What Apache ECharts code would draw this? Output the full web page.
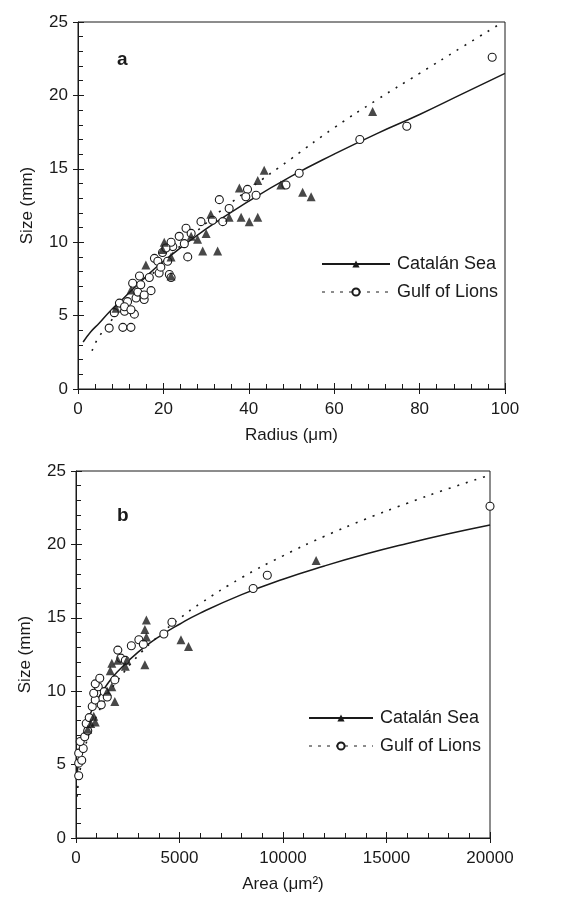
<!DOCTYPE html>
<html>
<head>
<meta charset="utf-8">
<script src="https://cdn.jsdelivr.net/npm/echarts@6/dist/echarts.min.js"></script>
<style>
  html, body { margin: 0; padding: 0; background: #fff; }
  #box { width: 572px; height: 905px; }
</style>
</head>
<body>
<div id="box"></div>
<script>
// panel a : radius (um) vs size (mm)
var catalanRadius = [8.9, 12.4, 15.9, 20.2, 21.8, 19.8, 21.8, 26.5, 28, 29.2, 32.7, 30, 31.1, 35.4, 38.2, 40.1, 42.1, 37.8, 42.1, 43.6, 52.6, 54.6, 47.5, 69];
var catalanRadiusSize = [5.5, 6.75, 8.45, 10.0, 9.0, 9.5, 7.7, 10.4, 10.2, 9.4, 9.4, 10.6, 11.9, 11.7, 11.7, 11.4, 11.7, 13.7, 14.2, 14.9, 13.4, 13.1, 13.9, 18.9];
var lionsRadius = [7.3, 10.5, 12.4, 8.5, 10.9, 13.2, 9.7, 11.6, 13.6, 15.5, 14, 17.1, 12.8, 14.4, 16.7, 19, 21.4, 17.9, 19.8, 22.2, 23.7, 25.7, 24.9, 21.8, 25.3, 26.5, 28.8, 31.5, 33.1, 33.9, 35.4, 39.7, 39.3, 41.7, 48.7, 51.8, 20.6, 18.7, 21, 19.4, 21.8, 14.7, 15.5, 10.9, 12.4, 66, 77, 97];
var lionsRadiusSize = [4.15, 4.2, 4.2, 5.2, 5.3, 5.1, 5.85, 5.95, 6.2, 6.1, 6.6, 6.7, 7.2, 7.7, 7.6, 7.9, 7.8, 8.9, 9.3, 9.7, 10.4, 9.0, 9.9, 10.0, 10.95, 10.6, 11.4, 11.5, 12.9, 11.4, 12.3, 13.6, 13.1, 13.2, 13.9, 14.7, 9.6, 8.7, 8.7, 8.3, 7.6, 7.1, 6.4, 5.6, 5.4, 17.0, 17.9, 22.6];
// fitted curves
var fitRadiusX = [1.2, 3, 5, 7.5, 10, 15, 20, 30, 40, 50, 60, 70, 80, 90, 100];
var fitRadiusCatalan = [3.2, 3.9, 4.5, 5.3, 6.0, 7.4, 8.7, 10.9, 12.8, 14.5, 16.0, 17.4, 18.7, 20.1, 21.5];
var fitRadiusLionsX = [3.3, 5, 10, 20, 30, 40, 50, 60, 70, 80, 90, 99];
var fitRadiusLions = [2.6, 3.6, 5.4, 8.6, 11.3, 13.6, 15.7, 17.8, 19.7, 21.5, 23.3, 24.9];

// panel b : area (um2) vs size (mm)
var catalanArea = [567, 712, 930, 857, 1511, 1874, 1729, 1656, 1729, 2383, 2456, 2020, 3328, 3400, 3328, 3400, 5071, 5434, 11600];
var catalanAreaSize = [7.4, 7.8, 7.9, 8.3, 10.0, 9.3, 10.3, 11.4, 11.9, 11.7, 12.1, 12.1, 11.8, 14.85, 14.2, 13.7, 13.5, 13.05, 18.9];
var lionsArea = [130, 130, 276, 130, 349, 203, 421, 567, 494, 640, 785, 930, 1220, 857, 1075, 930, 1148, 1366, 1511, 1874, 2020, 2165, 2383, 2674, 3037, 3255, 4244, 4635, 8558, 9241, 20000];
var lionsAreaSize = [4.24, 5.1, 5.3, 5.78, 6.1, 6.57, 6.9, 7.3, 7.8, 8.2, 8.96, 9.4, 9.07, 9.86, 10.3, 10.5, 10.88, 9.97, 9.6, 10.77, 12.8, 12.25, 12.1, 13.1, 13.5, 13.2, 13.9, 14.7, 17.0, 17.9, 22.6];
var fitAreaX = [50, 100, 200, 400, 700, 1000, 1500, 2000, 3000, 4000, 5000, 6000, 8000, 10000, 12000, 14000, 16000, 18000, 20000];
var fitAreaCatalan = [4.11, 4.97, 6.01, 7.27, 8.48, 9.36, 10.46, 11.32, 12.66, 13.70, 14.56, 15.32, 16.58, 17.63, 18.53, 19.34, 20.06, 20.72, 21.32];
var fitAreaLions = [2.81, 3.61, 4.65, 5.98, 7.32, 8.33, 9.66, 10.72, 12.42, 13.78, 14.95, 15.97, 17.73, 19.22, 20.55, 21.73, 22.80, 23.80, 24.72];

var sizeTicks = [0, 5, 10, 15, 20, 25];
var radiusTicks = [0, 20, 40, 60, 80, 100];
var areaTicks = [0, 5000, 10000, 15000, 20000];

var ink = '#1a1a1a';
var font = 'Liberation Sans, Arial, Helvetica, sans-serif';

function pairs(xs, ys) {
    var out = [];
    for (var i = 0; i < xs.length; i++) {
        out.push([xs[i], ys[i]]);
    }
    return out;
}

function mainX(grid, ticks, name) {
    return {
        type: 'value', gridIndex: grid, position: 'bottom',
        min: ticks[0], max: ticks[ticks.length - 1], interval: ticks[1] - ticks[0],
        name: name, nameLocation: 'middle', nameGap: 38,
        nameTextStyle: { color: ink, fontSize: 17, fontFamily: font },
        axisLine: { lineStyle: { color: ink, width: 1 } },
        axisTick: { inside: true, length: 6, lineStyle: { color: ink } },
        minorTick: { show: true, splitNumber: 5, length: 5, lineStyle: { color: ink } },
        axisLabel: {
            color: ink, fontSize: 17, fontFamily: font, margin: 12,
            formatter: function (v) { return String(v); }
        },
        splitLine: { show: false }
    };
}
function outX(grid, ticks) {
    return {
        type: 'value', gridIndex: grid, position: 'bottom',
        min: ticks[0], max: ticks[ticks.length - 1], interval: ticks[1] - ticks[0],
        axisLine: { show: false },
        axisTick: { inside: false, length: 5, lineStyle: { color: ink } },
        axisLabel: { show: false }, splitLine: { show: false }
    };
}
function mainY(grid) {
    return {
        type: 'value', gridIndex: grid, position: 'left',
        min: sizeTicks[0], max: sizeTicks[sizeTicks.length - 1], interval: 5,
        name: 'Size (mm)', nameLocation: 'middle', nameGap: 42,
        nameTextStyle: { color: ink, fontSize: 17, fontFamily: font },
        axisLine: { lineStyle: { color: ink, width: 1 } },
        axisTick: { inside: true, length: 6, lineStyle: { color: ink } },
        minorTick: { show: true, splitNumber: 5, length: 5, lineStyle: { color: ink } },
        axisLabel: { color: ink, fontSize: 17, fontFamily: font, margin: 10 },
        splitLine: { show: false }
    };
}
function outY(grid) {
    return {
        type: 'value', gridIndex: grid, position: 'left',
        min: sizeTicks[0], max: sizeTicks[sizeTicks.length - 1], interval: 5,
        axisLine: { show: false },
        axisTick: { inside: false, length: 5, lineStyle: { color: ink } },
        axisLabel: { show: false }, splitLine: { show: false }
    };
}

function fitLine(name, ax, data, dotted, symbol) {
    return {
        name: name, type: 'line', xAxisIndex: ax, yAxisIndex: ax,
        data: data, smooth: true, showSymbol: false, symbol: symbol,
        itemStyle: { color: ink },
        lineStyle: { color: ink, width: dotted ? 1.6 : 1.5, type: dotted ? [2, 7] : 'solid' },
        silent: true, z: 1
    };
}
function dots(name, ax, data, symbol) {
    var tri = symbol === 'triangle';
    return {
        name: name, type: 'scatter', xAxisIndex: ax, yAxisIndex: ax,
        data: data, symbol: symbol, symbolSize: tri ? 9 : 8, clip: false,
        itemStyle: tri ? { color: ink } : { color: '#fff', borderColor: ink, borderWidth: 1.1, opacity: 1 },
        z: tri ? 3 : 2
    };
}

function legendAt(left, top, width) {
    return {
        orient: 'vertical', left: left, top: top, padding: 0,
        itemWidth: width, itemHeight: 9, itemGap: 10,
        selectedMode: false,
        textStyle: { color: ink, fontSize: 18, fontFamily: font, padding: [0, 0, 0, 2] },
        data: [
            { name: 'Catalán Sea' },
            { name: 'Gulf of Lions', lineStyle: { type: [3, 6], width: 1 } }
        ]
    };
}

var myChart = echarts.init(document.getElementById('box'), null, { renderer: 'canvas' });

var option = {
    backgroundColor: '#fff',
    animation: false,
    grid: [
        { left: 78, top: 22, width: 427, height: 367, show: true, borderColor: ink, borderWidth: 1 },
        { left: 76, top: 471, width: 414, height: 367, show: true, borderColor: ink, borderWidth: 1 }
    ],
    xAxis: [
        mainX(0, radiusTicks, 'Radius (μm)'),
        mainX(1, areaTicks, 'Area (μm²)'),
        outX(0, radiusTicks),
        outX(1, areaTicks)
    ],
    yAxis: [mainY(0), mainY(1), outY(0), outY(1)],
    legend: [legendAt(321, 255, 68), legendAt(308, 709, 64)],
    graphic: [
        { type: 'text', left: 117, top: 50, style: { text: 'a', fontSize: 19, fontWeight: 'bold', fontFamily: font, fill: ink } },
        { type: 'text', left: 117, top: 506, style: { text: 'b', fontSize: 19, fontWeight: 'bold', fontFamily: font, fill: ink } }
    ],
    series: [
        fitLine('Catalán Sea', 0, pairs(fitRadiusX, fitRadiusCatalan), false, 'triangle'),
        fitLine('Gulf of Lions', 0, pairs(fitRadiusLionsX, fitRadiusLions), true, 'emptyCircle'),
        dots('Gulf of Lions', 0, pairs(lionsRadius, lionsRadiusSize), 'circle'),
        dots('Catalán Sea', 0, pairs(catalanRadius, catalanRadiusSize), 'triangle'),
        fitLine('Catalán Sea', 1, pairs(fitAreaX, fitAreaCatalan), false, 'triangle'),
        fitLine('Gulf of Lions', 1, pairs(fitAreaX, fitAreaLions), true, 'emptyCircle'),
        dots('Gulf of Lions', 1, pairs(lionsArea, lionsAreaSize), 'circle'),
        dots('Catalán Sea', 1, pairs(catalanArea, catalanAreaSize), 'triangle')
    ]
};

myChart.setOption(option);
</script>
</body>
</html>
